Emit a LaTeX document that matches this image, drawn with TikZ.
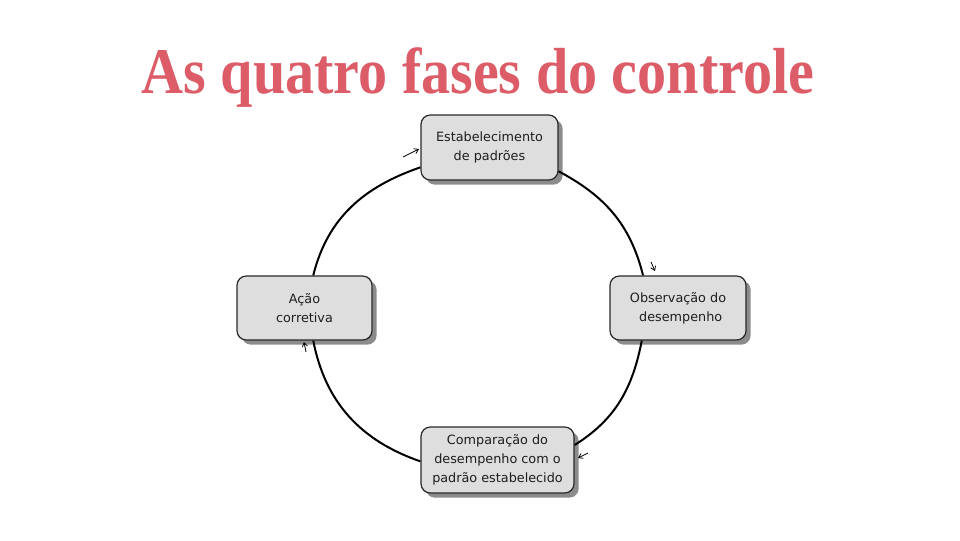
\documentclass[tikz,border=0pt]{standalone}
\usepackage{fontspec}
\setmainfont{Liberation Serif}
\newfontfamily\boxfont{DejaVu Sans}
\usetikzlibrary{shadows,arrows.meta}
\definecolor{titlered}{RGB}{220,92,104}
\definecolor{boxfill}{RGB}{222,222,222}
\definecolor{boxline}{RGB}{40,40,40}
\definecolor{boxtext}{RGB}{30,30,30}
\tikzset{
  phase/.style={draw=boxline, line width=0.9pt, fill=boxfill, rounded corners=7pt,
    align=center, text=boxtext, font=\boxfont\fontsize{9.6}{14.3}\selectfont, inner sep=0pt,
    drop shadow={shadow xshift=3.5pt, shadow yshift=-3.5pt, fill=black!60, opacity=0.75}},
  cycle/.style={draw=black, line width=1.5pt},
  tick/.style={draw=black, line width=0.6pt, -{Straight Barb[length=3pt,width=4pt]}}
}
\begin{document}
\begin{tikzpicture}[x=0.75pt, y=-0.75pt]
\useasboundingbox (0,0) rectangle (960,540);
\fill[white] (0,0) rectangle (960,540);

\node[text=titlered, font=\bfseries\fontsize{43.6}{50}\selectfont, anchor=base] (title) at (478,93)
  {\scalebox{1}[1.12]{As quatro fases do controle}};

\node[phase, minimum width=102.75pt, minimum height=48.75pt] (top) at (489.5,147.5)
  {Estabelecimento\\de padrões};
\node[phase, minimum width=102pt, minimum height=48pt] (right) at (678,308)
  {Observação do\\\hspace*{4pt}desempenho};
\node[phase, minimum width=114.75pt, minimum height=49.5pt] (bottom) at (497.5,460)
  {Comparação do\\desempenho com o\\padrão estabelecido};
\node[phase, minimum width=101.25pt, minimum height=48pt] (left) at (304.5,308)
  {Ação\\corretiva};

\draw[cycle] (top.341) to[out=-28, in=104] (right.137);
\draw[cycle] (right.222) to[out=-101, in=32] (bottom.11);
\draw[cycle] (bottom.181) to[out=161, in=281] (left.285);
\draw[cycle] (left.75) to[out=76, in=199] (top.196);

\coordinate (t1) at (403,157); \coordinate (t2) at (419,149);
\coordinate (r1) at (651,262); \coordinate (r2) at (655,271);
\coordinate (b1) at (588,453); \coordinate (b2) at (578,458);
\coordinate (l1) at (306,352); \coordinate (l2) at (304,342);
\draw[tick] (t1) -- (t2);
\draw[tick] (r1) -- (r2);
\draw[tick] (b1) -- (b2);
\draw[tick] (l1) -- (l2);
\end{tikzpicture}
\end{document}
